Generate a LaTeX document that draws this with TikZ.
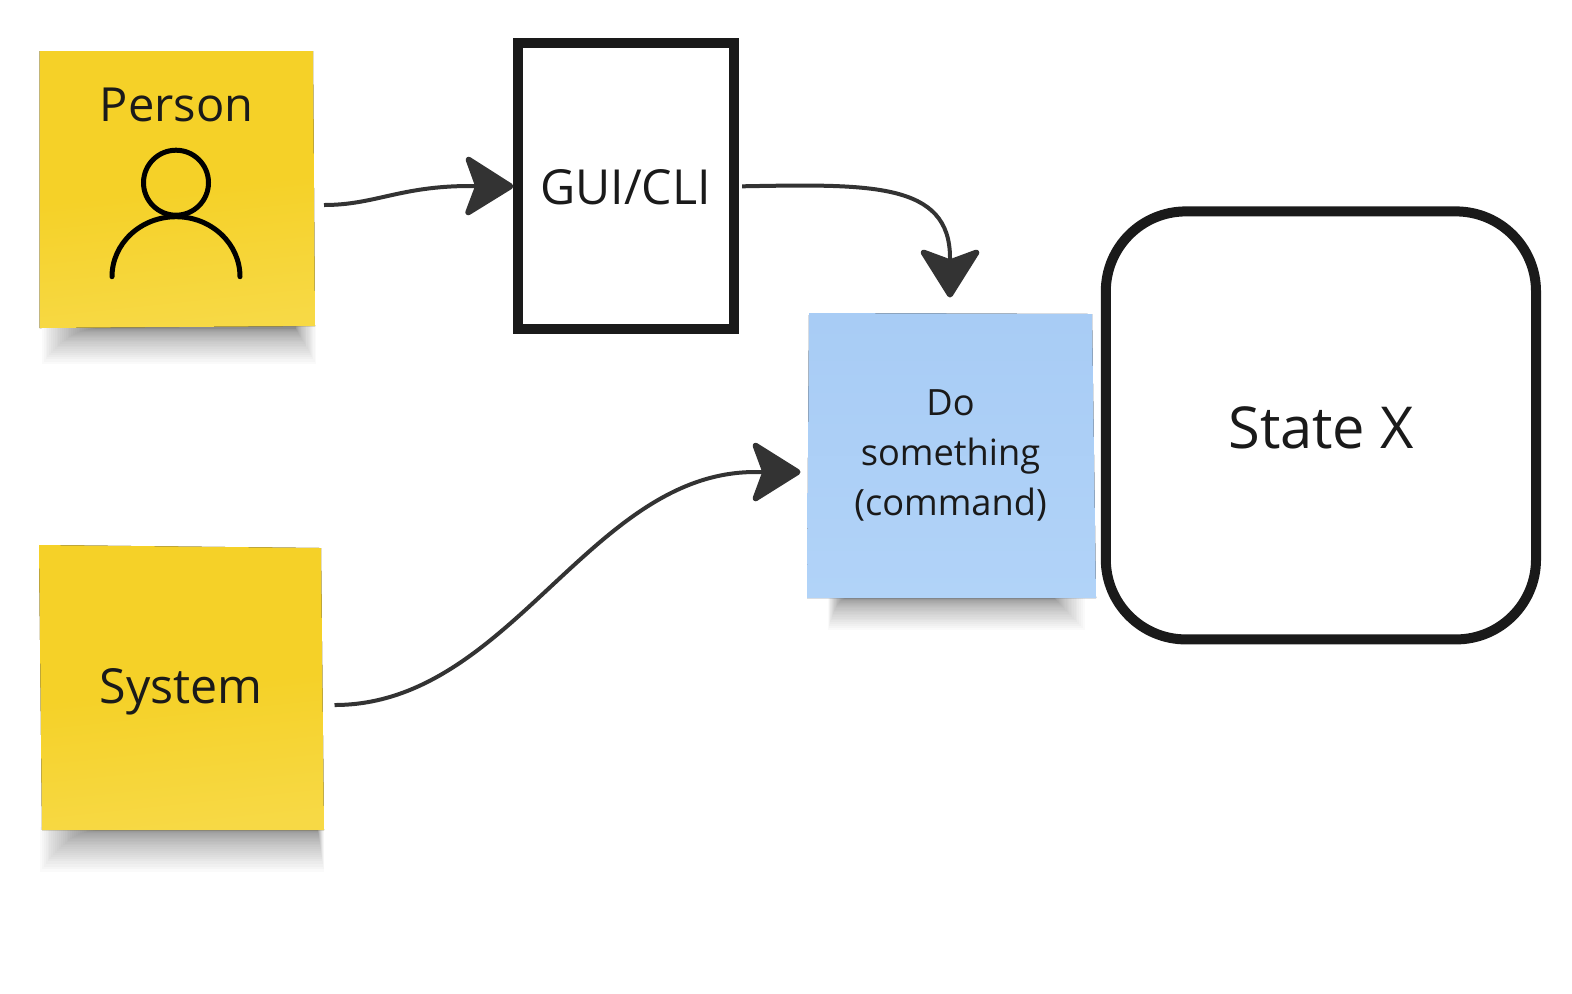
\documentclass[tikz,border=0pt]{standalone}
\usepackage{fontspec}
\setmainfont{Open Sans}
\usetikzlibrary{arrows.meta}
\definecolor{ink}{HTML}{1A1A1A}
\definecolor{wire}{HTML}{333333}
\definecolor{yelA}{HTML}{F5D128}
\definecolor{yelB}{HTML}{F7D945}
\definecolor{bluA}{HTML}{A8CCF5}
\definecolor{bluB}{HTML}{B1D3F8}
\tikzset{
  stickyanchor/.style={minimum width=#1,minimum height=#1,inner sep=0pt,outer sep=0pt},
  yelsticky/.style={top color=yelA,bottom color=yelB,middle color=yelA,shading angle=6},
  blusticky/.style={top color=bluA,bottom color=bluB},
  frame/.style={draw=ink,line width=5pt,fill=white,inner sep=0pt},
  lab/.style={text=ink,anchor=base,inner sep=0pt,font=\fontsize{23.5}{28}\selectfont},
  labwide/.style={lab,font=\fontsize{24.15}{28}\selectfont},
  lablarge/.style={lab,font=\fontsize{28.9}{35}\selectfont},
  labsmall/.style={lab,font=\fontsize{18.1}{21}\selectfont},
  wirearrow/.style={draw=wire,line width=2pt,-{Stealth[length=26.5pt,width=33pt,inset=6pt,round,line width=3pt]}},
  icon/.style={draw=black,line width=2.5pt,line cap=round},
}
% core left, core right, outer left, outer right, top, bottom
\newcommand{\softshadow}[6]{%
  \foreach \i in {0,...,29}{%
    \pgfmathsetmacro{\sa}{(1-\i/29)*(1-\i/29)}%
    \pgfmathsetmacro{\xl}{#1+(#3-#1)*(1-\i/29)}%
    \pgfmathsetmacro{\xr}{#2+(#4-#2)*\sa}%
    \pgfmathsetmacro{\yb}{#5+2+(#6-#5-2)*\sa}%
    \fill[black,fill opacity=.02]
      (\xl,#5-2) -- (\xr,#5-2) -- (\xr,\yb) -- (\xl,\yb) -- cycle;
  }%
}
\begin{document}
\begin{tikzpicture}[x=.5pt,y=-.5pt]
\useasboundingbox (0,0) rectangle (1572,993);
% shadows
\softshadow{95}{296}{42}{316}{327}{364}
\softshadow{95}{318}{40}{324}{829}{872}
\softshadow{845}{1055}{828}{1085}{597}{630}
% stickies
\fill[yelsticky] (39.5,51) -- (313,51) -- (315,326) -- (39.5,328) -- cycle;
\fill[yelsticky] (39,545) -- (321,548) -- (324,830) -- (42,830) -- cycle;
\fill[blusticky] (809,313) -- (1092,314) -- (1096,598) -- (807,598) -- cycle;
\node[stickyanchor=137pt] (person) at (177,189.5) {};
\node[stickyanchor=142pt] (system) at (181.5,687.5) {};
\node[stickyanchor=144pt] (command) at (951.5,455.5) {};
% frames
\node[frame,minimum width=107.85pt,minimum height=143pt] (gui) at (626.2,186.3) {};
\node[frame,rounded corners=40pt,minimum width=215.1pt,minimum height=214pt] (state) at (1320.9,425.4) {};
% labels
\node[lab] (personlabel) at (176.5,121) {Person};
\node[labwide] (systemlabel) at (181,703) {System};
\node[labwide] (guilabel) at (625.5,204) {GUI/CLI};
\node[lablarge] (statelabel) at (1321,448.5) {State X};
\node[labsmall] (do1) at (950.5,415) {Do};
\node[labsmall] (do2) at (950.5,465) {something};
\node[labsmall] (do3) at (950.5,515) {(command)};
% person icon
\draw[icon] (176,182.7) circle (16.25pt);
\draw[icon] (112,276.7) arc[start angle=180,end angle=0,x radius=32pt,y radius=30pt];
% connectors
\draw[wirearrow] ([shift={(10,15.5)}]person.east) .. controls (375,205) and (400,186) .. (470,186) -- (gui.west);
\draw[wirearrow] ([xshift=1.5pt]gui.east) .. controls (870,184) and (950,182) .. (950,258) -- ([yshift=7pt]command.north -| 950,0);
\draw[wirearrow] ([shift={(11,17.5)}]system.east) .. controls (510,705) and (590,472) .. (755,472) -- ([shift={(-7,16.5)}]command.west);
\end{tikzpicture}
\end{document}
